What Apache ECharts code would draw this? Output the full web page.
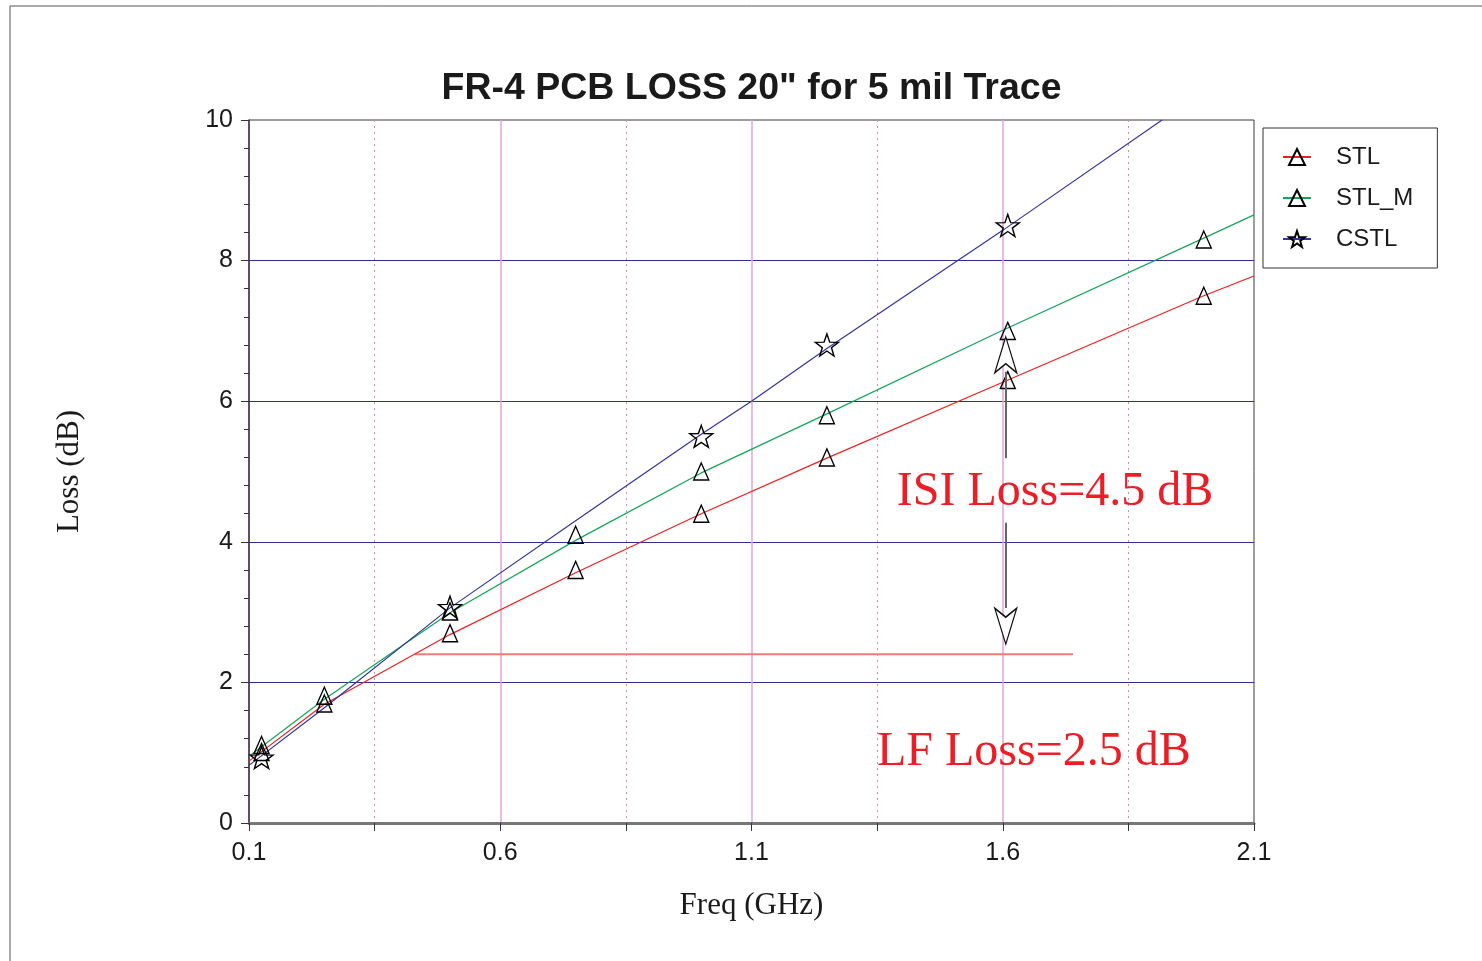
<!DOCTYPE html>
<html>
<head>
<meta charset="utf-8">
<script src="https://cdn.jsdelivr.net/npm/echarts@6/dist/echarts.min.js"></script>
<style>
  html, body { margin: 0; padding: 0; background: #fff; }
  #main { width: 1482px; height: 961px; }
</style>
</head>
<body>
<div id="main"></div>
<script>
// measured points (GHz, dB)
var stlFreq = [0.125, 0.25, 0.5, 0.75, 1.0, 1.25, 1.61, 2.0];
var stlLoss = [1.01, 1.70, 2.70, 3.60, 4.40, 5.20, 6.30, 7.50];
var stlmFreq = [0.125, 0.25, 0.5, 0.75, 1.0, 1.25, 1.61, 2.0];
var stlmLoss = [1.11, 1.81, 3.01, 4.10, 5.00, 5.80, 7.00, 8.30];
var cstlFreq = [0.125, 0.5, 1.0, 1.25, 1.61];
var cstlLoss = [0.93, 3.07, 5.50, 6.80, 8.50];

// fitted curves
var fitFreq = [0.1, 0.25, 0.5, 0.75, 1.0, 1.25, 1.6, 2.0, 2.1];
var stlFit = [0.88, 1.69, 2.68, 3.56, 4.40, 5.19, 6.27, 7.50, 7.78];
var stlmFit = [0.95, 1.76, 2.99, 4.02, 4.98, 5.82, 7.01, 8.32, 8.65];
var cstlFitFreq = [0.1, 0.25, 0.5, 0.75, 1.0, 1.1, 1.25, 1.6, 1.917];
var cstlFit = [0.82, 1.64, 3.06, 4.30, 5.53, 6.00, 6.75, 8.43, 10.0];

// annotations
var lfLevelFreq = [0.43, 1.74];
var lfLevelLoss = [2.40, 2.40];
var arrowFreq = 1.606;
var arrowShaftTop = [6.42, 5.19];
var arrowShaftBottom = [4.27, 3.06];
var arrowHeadLoss = [6.66, 2.80];
var noteText = ['ISI Loss=4.5 dB', 'LF Loss=2.5 dB'];
var noteFreq = [1.704, 1.662];
var noteLoss = [4.70, 1.01];

var xTicks = ['0.1', '0.6', '1.1', '1.6', '2.1'];
var yTicks = ['0', '2', '4', '6', '8', '10'];

var starPath = 'path://M0,-10L2.35,-3.24L9.51,-3.09L3.8,1.24L5.88,8.09L0,4L-5.88,8.09L-3.8,1.24L-9.51,-3.09L-2.35,-3.24Z';
var headPath = 'path://M0,0L11,36L0,27L-11,36Z';

function pairs(xs, ys) {
  return xs.map(function (x, i) { return [x, ys[i]]; });
}

var hollow = { color: 'rgba(0,0,0,0)', borderColor: '#000', borderWidth: 1.4, opacity: 1 };

var option = {
  backgroundColor: '#fff',
  animation: false,
  graphic: [
    {
      type: 'rect',
      shape: { x: 10, y: 6, width: 1600, height: 1100 },
      style: { fill: 'none', stroke: '#555', lineWidth: 1 },
      silent: true
    },
    {
      type: 'text',
      x: 751.5,
      y: 89,
      style: {
        text: 'FR-4 PCB LOSS 20" for 5 mil Trace',
        font: 'bold 37.5px "Liberation Sans", Arial, sans-serif',
        fill: '#1a1a1a',
        align: 'center',
        verticalAlign: 'middle'
      }
    }
  ],
  grid: {
    left: 249,
    right: 228,
    top: 120,
    bottom: 138,
    show: true,
    borderColor: '#3a3a3a',
    borderWidth: 1
  },
  legend: {
    orient: 'vertical',
    left: 1263,
    top: 128,
    padding: [17, 24, 17, 19],
    itemGap: 17,
    itemWidth: 28,
    itemHeight: 20,
    backgroundColor: '#fff',
    borderColor: '#333',
    borderWidth: 1,
    borderRadius: 0,
    data: ['STL', 'STL_M', 'CSTL'],
    textStyle: {
      fontFamily: '"Liberation Sans", Arial, sans-serif',
      fontSize: 24,
      color: '#1a1a1a',
      padding: [0, 0, 0, 20]
    }
  },
  xAxis: {
    type: 'value',
    min: 0.1,
    max: 2.1,
    interval: 0.5,
    name: 'Freq (GHz)',
    nameLocation: 'middle',
    nameGap: 67,
    nameTextStyle: {
      fontFamily: '"Liberation Serif", "Times New Roman", serif',
      fontSize: 31,
      color: '#1a1a1a'
    },
    axisLine: { onZero: false, lineStyle: { color: '#777', width: 3 } },
    axisTick: { inside: false, length: 8, lineStyle: { color: '#333' } },
    minorTick: { show: true, splitNumber: 2, length: 8, lineStyle: { color: '#333' } },
    axisLabel: {
      margin: 18,
      fontFamily: '"Liberation Sans", Arial, sans-serif',
      fontSize: 25,
      color: '#1a1a1a',
      formatter: function (v) {
        var s = v.toFixed(1);
        return xTicks.indexOf(s) >= 0 ? s : '';
      }
    },
    splitLine: {
      show: true,
      showMinLine: false,
      showMaxLine: false,
      lineStyle: { color: '#e3a3d8', width: 1.5 }
    },
    minorSplitLine: {
      show: true,
      lineStyle: { color: '#d48ab8', width: 1, type: [2, 4] }
    }
  },
  yAxis: {
    type: 'value',
    min: 0,
    max: 10,
    interval: 2,
    name: 'Loss (dB)',
    nameLocation: 'middle',
    nameGap: 164,
    nameTextStyle: {
      fontFamily: '"Liberation Serif", "Times New Roman", serif',
      fontSize: 31,
      color: '#1a1a1a'
    },
    axisLine: { show: true, lineStyle: { color: '#4d3550', width: 1.5 } },
    axisTick: { inside: false, length: 8, lineStyle: { color: '#333' } },
    minorTick: { show: true, splitNumber: 5, length: 5, lineStyle: { color: '#333' } },
    axisLabel: {
      margin: 16,
      fontFamily: '"Liberation Sans", Arial, sans-serif',
      fontSize: 25,
      color: '#1a1a1a',
      formatter: function (v) {
        var s = String(Math.round(v));
        return yTicks.indexOf(s) >= 0 ? s : '';
      }
    },
    splitLine: {
      show: true,
      showMinLine: false,
      showMaxLine: false,
      lineStyle: { color: '#2e2e96', width: 1 }
    }
  },
  series: [
    {
      name: 'STL',
      type: 'line',
      data: pairs(fitFreq, stlFit),
      symbol: 'triangle',
      showSymbol: false,
      silent: true,
      clip: true,
      lineStyle: { color: '#ee2020', width: 1.2 },
      itemStyle: hollow,
      z: 3
    },
    {
      name: 'STL_M',
      type: 'line',
      data: pairs(fitFreq, stlmFit),
      symbol: 'triangle',
      showSymbol: false,
      silent: true,
      clip: true,
      lineStyle: { color: '#13a55a', width: 1.2 },
      itemStyle: hollow,
      z: 3
    },
    {
      name: 'CSTL',
      type: 'line',
      data: pairs(cstlFitFreq, cstlFit),
      symbol: starPath,
      showSymbol: false,
      silent: true,
      clip: true,
      lineStyle: { color: '#34349c', width: 1.2 },
      itemStyle: hollow,
      z: 3
    },
    {
      name: 'STL',
      type: 'scatter',
      data: pairs(stlFreq, stlLoss),
      symbol: 'triangle',
      symbolSize: [15, 17],
      itemStyle: hollow,
      z: 4
    },
    {
      name: 'STL_M',
      type: 'scatter',
      data: pairs(stlmFreq, stlmLoss),
      symbol: 'triangle',
      symbolSize: [15, 17],
      itemStyle: hollow,
      z: 4
    },
    {
      name: 'CSTL',
      type: 'scatter',
      data: pairs(cstlFreq, cstlLoss),
      symbol: starPath,
      symbolSize: [23, 22],
      itemStyle: hollow,
      z: 4
    },
    {
      name: 'lfLevel',
      type: 'line',
      data: pairs(lfLevelFreq, lfLevelLoss),
      symbol: 'none',
      silent: true,
      lineStyle: { color: '#f07a7a', width: 2 },
      z: 2
    },
    {
      name: 'isiArrow',
      type: 'scatter',
      data: [
        { value: [arrowFreq, arrowHeadLoss[0]], symbolRotate: 0 },
        { value: [arrowFreq, arrowHeadLoss[1]], symbolRotate: 180 }
      ],
      symbol: headPath,
      symbolSize: [22, 36],
      silent: true,
      itemStyle: { color: '#fff', borderColor: '#111', borderWidth: 1.4, opacity: 1 },
      markLine: {
        silent: true,
        symbol: 'none',
        label: { show: false },
        lineStyle: { color: '#666', width: 2, type: 'solid' },
        data: [
          [{ coord: [arrowFreq, arrowShaftTop[0]] }, { coord: [arrowFreq, arrowShaftTop[1]] }],
          [{ coord: [arrowFreq, arrowShaftBottom[0]] }, { coord: [arrowFreq, arrowShaftBottom[1]] }]
        ]
      },
      z: 5
    },
    {
      name: 'notes',
      type: 'scatter',
      data: noteText.map(function (t, i) { return { name: t, value: [noteFreq[i], noteLoss[i]] }; }),
      symbolSize: 1,
      silent: true,
      itemStyle: { color: 'rgba(0,0,0,0)', opacity: 1 },
      label: {
        show: true,
        position: 'inside',
        formatter: '{b}',
        fontFamily: '"Liberation Serif", "Times New Roman", serif',
        fontSize: 48,
        color: '#ee1c25',
        opacity: 1,
        textBorderWidth: 0,
        textBorderColor: 'transparent'
      },
      z: 6
    }
  ]
};

var myChart = echarts.init(document.getElementById('main'));
myChart.setOption(option);
</script>
</body>
</html>
